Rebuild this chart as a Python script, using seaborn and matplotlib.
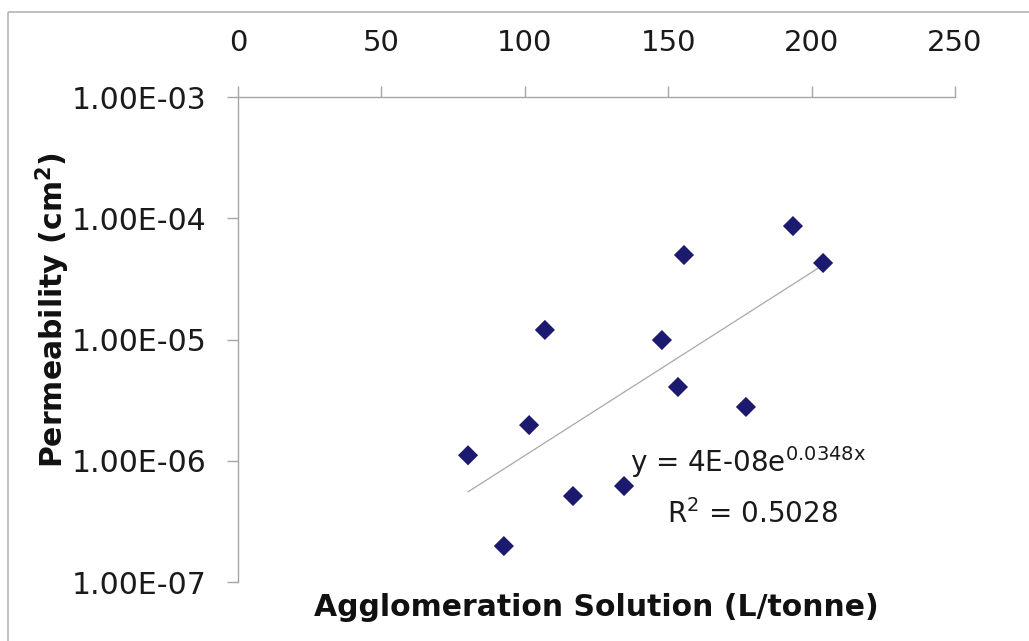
import numpy as np
import pandas as pd
import matplotlib
matplotlib.use("Agg")
import matplotlib.pyplot as plt
from matplotlib.lines import Line2D
import seaborn as sns

# Data
solution = [80.2, 92.7, 101.5, 107.0, 116.8, 134.6, 147.8, 153.4, 155.5, 177.1, 193.5, 204.0]
permeability = [1.11e-6, 1.98e-7, 1.97e-6, 1.20e-5, 5.12e-7, 6.19e-7, 9.9e-6, 4.06e-6,
                4.98e-5, 2.78e-6, 8.63e-5, 4.28e-5]
x_ticks = [0, 50, 100, 150, 200, 250]
y_ticks = [1e-7, 1e-6, 1e-5, 1e-4, 1e-3]
y_tick_labels = ["1.00E-07", "1.00E-06", "1.00E-05", "1.00E-04", "1.00E-03"]
equation_text = r"y = 4E-08e$^{\mathrm{0.0348x}}$"
r2_text = r"R$^{\mathrm{2}}$ = 0.5028"

df = pd.DataFrame({"solution": solution, "permeability": permeability})

sns.set_theme(style="white")
plt.rcParams["font.family"] = ["DejaVu Sans"]
plt.rcParams["mathtext.fontset"] = "dejavusans"

fig = plt.figure(figsize=(10.29, 6.41), dpi=100, frameon=True)
fig.patch.set_facecolor("white")
fig.patch.set_edgecolor("white")
fig.patch.set_linewidth(0)
ax = fig.add_axes([0.2313, 0.0920, 0.6968, 0.7566])

# exponential trendline fitted to the data
coef = np.polyfit(df["solution"], np.log(df["permeability"]), 1)
xfit = np.array([df["solution"].min(), df["solution"].max()])
trend = pd.DataFrame({"x": xfit, "y": np.exp(coef[1] + coef[0] * xfit)})
sns.lineplot(data=trend, x="x", y="y", ax=ax, color="#a8a8a8", linewidth=0.9)

sns.scatterplot(data=df, x="solution", y="permeability", ax=ax, marker="D",
                s=105, color="#1b1a6f", edgecolor="none", zorder=3)

ax.set_yscale("log")
ax.set_xlim(0, 250)
ax.set_ylim(1e-7, 1e-3)
ax.set_xticks(x_ticks)
ax.set_xticklabels([str(t) for t in x_ticks])
ax.set_yticks(y_ticks)
ax.set_yticklabels(y_tick_labels)
ax.minorticks_off()

for side in ["right", "bottom"]:
    ax.spines[side].set_visible(False)
for side in ["top", "left"]:
    ax.spines[side].set_visible(True)
    ax.spines[side].set_color("#a6a6a6")
    ax.spines[side].set_linewidth(1.0)

ax.xaxis.tick_top()
ax.tick_params(axis="x", which="major", direction="out", length=8, width=1,
               color="#a6a6a6", pad=21, labelsize=21, labelcolor="#1a1a1a",
               top=True, bottom=False)
ax.tick_params(axis="y", which="major", direction="out", length=8, width=1,
               color="#a6a6a6", pad=15, labelsize=21.5, labelcolor="#1a1a1a", left=True)

ax.set_xlabel("Agglomeration Solution (L/tonne)", fontsize=21.5, fontweight="bold",
              color="#111111", labelpad=8)
ax.xaxis.set_label_position("bottom")
ax.set_ylabel("Permeability (cm$^{\\mathbf{2}}$)", fontsize=21.5, fontweight="bold",
              color="#111111")
ax.yaxis.set_label_coords(-0.258, 0.561)
ax.yaxis.label.set_verticalalignment("center")

ax.text(0.547, 0.227, equation_text, transform=ax.transAxes, ha="left", va="baseline",
        fontsize=20, color="#1a1a1a")
ax.text(0.598, 0.122, r2_text, transform=ax.transAxes, ha="left", va="baseline",
        fontsize=20, color="#1a1a1a")

# outer chart border (top and left visible in the reference)
fig.add_artist(Line2D([8 / 1029, 1.0], [1 - 12 / 641, 1 - 12 / 641],
                      transform=fig.transFigure, color="#b4b4b4", linewidth=1.2,
                      solid_capstyle="butt"))
fig.add_artist(Line2D([8 / 1029, 8 / 1029], [0.0, 1 - 12 / 641],
                      transform=fig.transFigure, color="#b4b4b4", linewidth=1.2,
                      solid_capstyle="butt"))

fig.savefig("out.png", dpi=100, facecolor="white", edgecolor="white")
